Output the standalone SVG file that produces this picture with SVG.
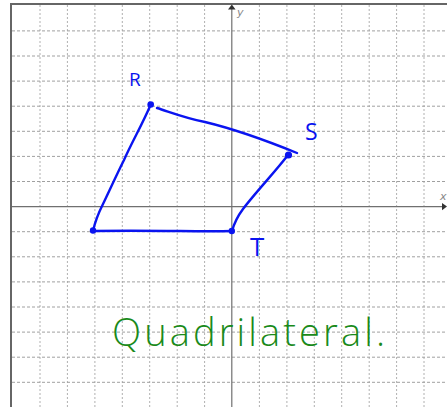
<svg xmlns="http://www.w3.org/2000/svg" width="447" height="407" viewBox="0 0 447 407">
  <style>
    .grid { stroke: #a0a0a0; stroke-width: 1; stroke-dasharray: 3 2; fill: none; }
    .gridv { stroke: #b0b0b0; stroke-width: 1; stroke-dasharray: 2 2; fill: none; }
    .axis { stroke: #707070; stroke-width: 1.2; fill: none; }
    .frame { stroke: #666; stroke-width: 2; fill: none; }
    .edge { stroke: #0a14f0; stroke-width: 2.4; fill: none; stroke-linecap: round; stroke-linejoin: round; }
    .dot { fill: #0a14f0; }
    .lbl { font-family: "Open Sans", "DejaVu Sans", sans-serif; font-weight: 400; fill: #0a14f0; }
    .axlbl { font-family: "DejaVu Sans", sans-serif; font-style: italic; font-size: 11px; fill: #888; }
    .hand { font-family: "Open Sans", "Liberation Sans", sans-serif; font-weight: 300; fill: #1a8a1a; }
  </style>
  <rect x="0" y="0" width="447" height="407" fill="#ffffff"/>
  <g id="grid">
    <path class="gridv" d="M40,5V407 M67.4,5V407 M94.9,5V407 M122.3,5V407 M149.7,5V407 M177.2,5V407 M204.6,5V407 M259.4,5V407 M286.9,5V407 M314.3,5V407 M341.7,5V407 M369.2,5V407 M396.6,5V407 M424,5V407"/>
    <path class="grid" d="M12,30.9H447 M12,56H447 M12,81.1H447 M12,106.2H447 M12,131.3H447 M12,156.4H447 M12,181.5H447 M12,231.7H447 M12,256.8H447 M12,281.9H447 M12,307H447 M12,332.1H447 M12,357.2H447 M12,382.3H447"/>
  </g>
  <g id="frame">
    <path class="frame" d="M11,407V4H447"/>
  </g>
  <g id="axes">
    <path class="axis" d="M231.8,8V407"/>
    <path class="axis" d="M12,206.6H444"/>
    <polygon points="228,9.5 231.8,4.5 235.6,9.5" fill="#333"/>
    <polygon points="442,203 447,206.6 442,210.2" fill="#333"/>
    <text class="axlbl" x="237" y="16">y</text>
    <text class="axlbl" x="440" y="200">x</text>
  </g>
  <g id="connectors">
    <path id="edge-RS" class="edge" d="M157,108 C170,112 185,118 205,122 C230,128 265,140 297,153"/>
    <path id="edge-ST" class="edge" d="M288,155 C275,172 255,193 243,209 C237,217 234,224 232,231"/>
    <path id="edge-TU" class="edge" d="M232,231 C200,232 160,230 93,231"/>
    <path id="edge-UR" class="edge" d="M93,231 C95,222 100,210 103,204 C112,185 118,172 124,160 C133,140 142,125 151,104"/>
  </g>
  <g id="node-R">
    <circle class="dot" cx="150.7" cy="104.5" r="3.3"/>
    <text class="lbl" x="129" y="86" font-size="19">R</text>
  </g>
  <g id="node-S">
    <circle class="dot" cx="288.5" cy="155" r="3.6"/>
    <text class="lbl" x="305" y="140" font-size="23">S</text>
  </g>
  <g id="node-T">
    <circle class="dot" cx="231.8" cy="231" r="3.2"/>
    <text class="lbl" x="250" y="256" font-size="26">T</text>
  </g>
  <g id="node-U">
    <circle class="dot" cx="93" cy="230.5" r="3.2"/>
  </g>
  <g id="caption">
    <text class="hand" x="112" y="346" font-size="38" textLength="273" lengthAdjust="spacing">Quadrilateral.</text>
  </g>
</svg>
